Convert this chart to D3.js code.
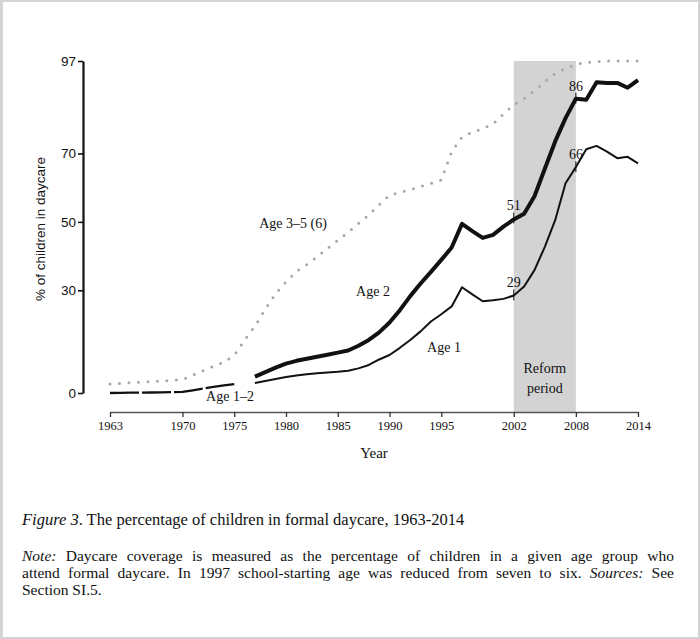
<html>
<script src="https://d3js.org/d3.v7.min.js"></script>
<style>
  body { margin: 0; background: #fff; }
  text { fill: #111; }
</style>
<body>
<div id="vis"></div>
<script>
// values (percent of children in formal daycare)
const yearsAge12 = d3.range(1963, 1976);
const age12 = [0, 0.05, 0.1, 0.1, 0.15, 0.2, 0.25, 0.3, 0.8, 1.3, 1.8, 2.2, 2.6];

const yearsAge1and2 = d3.range(1977, 2015);
const age2 = [4.8, 6.1, 7.4, 8.6, 9.4, 10.0, 10.6, 11.2, 11.8, 12.4,
  13.8, 15.5, 17.7, 20.6, 24.2, 28.3, 32.0, 35.4, 38.9, 42.5,
  49.4, 47.3, 45.3, 46.2, 48.6, 50.7, 52.4, 57.5, 65.5, 73.5,
  80.3, 86.0, 85.7, 90.8, 90.6, 90.6, 89.2, 91.4];
const age1 = [2.9, 3.5, 4.1, 4.7, 5.1, 5.5, 5.8, 6.0, 6.2, 6.5,
  7.2, 8.2, 9.8, 11.1, 13.2, 15.5, 18.0, 20.9, 23.0, 25.3,
  30.9, 28.8, 26.8, 27.1, 27.5, 28.5, 31.1, 35.9, 42.7, 50.5,
  61.3, 66.0, 71.2, 72.2, 70.5, 68.6, 69.0, 67.1];

const yearsAge35 = d3.range(1963, 2015);
const age35 = [2.6, 2.8, 3.0, 3.2, 3.3, 3.5, 3.7, 3.9, 5.2, 6.5,
  7.8, 9.0, 11.0, 15.5, 19.5, 24.5, 29.0, 32.5, 35.5, 37.5,
  39.8, 42.2, 44.6, 47.0, 49.5, 52.0, 55.0, 57.8, 58.6, 59.4,
  60.3, 61.2, 62.2, 70.5, 74.8, 76.2, 77.2, 78.6, 81.5, 84.2,
  86.0, 88.3, 91.0, 93.3, 94.8, 96.0, 96.6, 96.8, 97.0, 97.0,
  97.0, 97.0];

const xTicks = [1963, 1970, 1975, 1980, 1985, 1990, 1995, 2002, 2008, 2014];
const yTicks = [0, 30, 50, 70, 97];
const reform = [2002, 2008];
const marked = [
  { year: 2002, value: 51, label: '51' },
  { year: 2002, value: 28.5, label: '29' },
  { year: 2008, value: 86, label: '86' },
  { year: 2008, value: 66, label: '66' }
];

const W = 700, H = 639;
const svg = d3.select('#vis').append('svg').attr('width', W).attr('height', H);

// page frame
svg.append('rect').attr('width', W).attr('height', H).attr('fill', '#d4d4d4');
svg.append('rect').attr('x', 3).attr('y', 2).attr('width', 695).attr('height', 635).attr('fill', '#fff');

const x = d3.scaleLinear().domain([1963, 2014]).range([110, 638]);
const y = d3.scaleLinear().domain([0, 97]).range([393, 61]);
const axisY = 412, axisX = 83;

// reform period
svg.append('rect')
  .attr('x', x(reform[0])).attr('width', x(reform[1]) - x(reform[0]))
  .attr('y', y(97)).attr('height', axisY - y(97))
  .attr('fill', '#d3d3d3');

svg.append('text').attr('x', (x(reform[0]) + x(reform[1])) / 2).attr('y', 373)
  .attr('text-anchor', 'middle').style('font', '14px "Liberation Serif", serif').text('Reform');
svg.append('text').attr('x', (x(reform[0]) + x(reform[1])) / 2).attr('y', 393)
  .attr('text-anchor', 'middle').style('font', '14px "Liberation Serif", serif').text('period');

// axes
const yAxis = svg.append('g').attr('transform', `translate(${axisX},0)`)
  .call(d3.axisLeft(y).tickValues(yTicks).tickSize(5).tickSizeOuter(0).tickPadding(2));
yAxis.select('.domain').attr('stroke', '#111').attr('stroke-width', 2.2);
yAxis.selectAll('.tick line').attr('stroke', '#111').attr('stroke-width', 1.6);
yAxis.selectAll('.tick text')
  .style('font-family', '"Liberation Sans Narrow", "Arial Narrow", "Liberation Sans", sans-serif')
  .style('font-size', '13.5px').style('font-stretch', 'condensed')
  .attr('fill', '#222');

const xAxis = svg.append('g').attr('transform', `translate(0,${axisY})`)
  .call(d3.axisBottom(x).tickValues(xTicks).tickFormat(d3.format('d')).tickSize(5).tickSizeOuter(0).tickPadding(4));
xAxis.select('.domain').attr('stroke', '#555').attr('stroke-width', 1.6);
xAxis.selectAll('.tick line').attr('stroke', '#333').attr('stroke-width', 1.3);
xAxis.selectAll('.tick text')
  .style('font-family', '"Liberation Serif", serif').style('font-size', '12.5px').attr('fill', '#111');

svg.append('text').attr('transform', 'translate(45,229) rotate(-90)')
  .attr('text-anchor', 'middle')
  .style('font', '13.5px "Liberation Sans", sans-serif').text('% of children in daycare');
svg.append('text').attr('x', 374).attr('y', 458).attr('text-anchor', 'middle')
  .style('font', '15px "Liberation Serif", serif').text('Year');

// lines
const line = (years) => d3.line().x((d, i) => x(years[i])).y(d => y(d));

svg.append('path').datum(age35).attr('d', line(yearsAge35))
  .attr('fill', 'none').attr('stroke', '#a8a8a8').attr('stroke-width', 3)
  .attr('stroke-linecap', 'round').attr('stroke-dasharray', '0 9.5');

svg.append('path').datum(age12).attr('d', line(yearsAge12))
  .attr('fill', 'none').attr('stroke', '#111').attr('stroke-width', 2.3)
  .attr('stroke-dasharray', '29 3');

svg.append('path').datum(age1).attr('d', line(yearsAge1and2))
  .attr('fill', 'none').attr('stroke', '#111').attr('stroke-width', 2)
  .attr('stroke-linejoin', 'round');

svg.append('path').datum(age2).attr('d', line(yearsAge1and2))
  .attr('fill', 'none').attr('stroke', '#111').attr('stroke-width', 4)
  .attr('stroke-linejoin', 'round');

// value marks
marked.forEach(m => {
  svg.append('line').attr('x1', x(m.year)).attr('x2', x(m.year))
    .attr('y1', y(m.value) - 6).attr('y2', y(m.value) + 5)
    .attr('stroke', '#111').attr('stroke-width', 1);
  svg.append('text').attr('x', x(m.year)).attr('y', y(m.value) - 8)
    .attr('text-anchor', 'middle').style('font', '14px "Liberation Serif", serif').text(m.label);
});

// series labels
const labelFont = '14px "Liberation Serif", serif';
[
  { t: 'Age 3–5 (6)', x: 293, y: 228 },
  { t: 'Age 2', x: 373, y: 296 },
  { t: 'Age 1', x: 444, y: 352 },
  { t: 'Age 1–2', x: 230, y: 401 }
].forEach(l => svg.append('text').attr('x', l.x).attr('y', l.y)
  .attr('text-anchor', 'middle').style('font', labelFont).text(l.t));

// caption
const cap = svg.append('text').attr('x', 22).attr('y', 525)
  .style('font', '16.5px "Liberation Serif", serif');
cap.append('tspan').style('font-style', 'italic').text('Figure 3');
cap.append('tspan').text('. The percentage of children in formal daycare, 1963-2014');

const noteFont = '15.5px "Liberation Serif", serif';
function justify(t, width) {
  const len = t.node().getComputedTextLength();
  const spaces = (t.text().match(/ /g) || []).length;
  if (spaces && len < width) t.style('word-spacing', ((width - len) / spaces) + 'px');
}
const n1 = svg.append('text').attr('x', 22).attr('y', 561).style('font', noteFont);
n1.append('tspan').style('font-style', 'italic').text('Note:');
n1.append('tspan').text(' Daycare coverage is measured as the percentage of children in a given age group who');
justify(n1, 652);
const n2 = svg.append('text').attr('x', 22).attr('y', 578).style('font', noteFont);
n2.append('tspan').text('attend formal daycare. In 1997 school-starting age was reduced from seven to six. ');
n2.append('tspan').style('font-style', 'italic').text('Sources:');
n2.append('tspan').text(' See');
justify(n2, 652);
svg.append('text').attr('x', 22).attr('y', 595).style('font', noteFont).text('Section SI.5.');
</script>
</body>
</html>
